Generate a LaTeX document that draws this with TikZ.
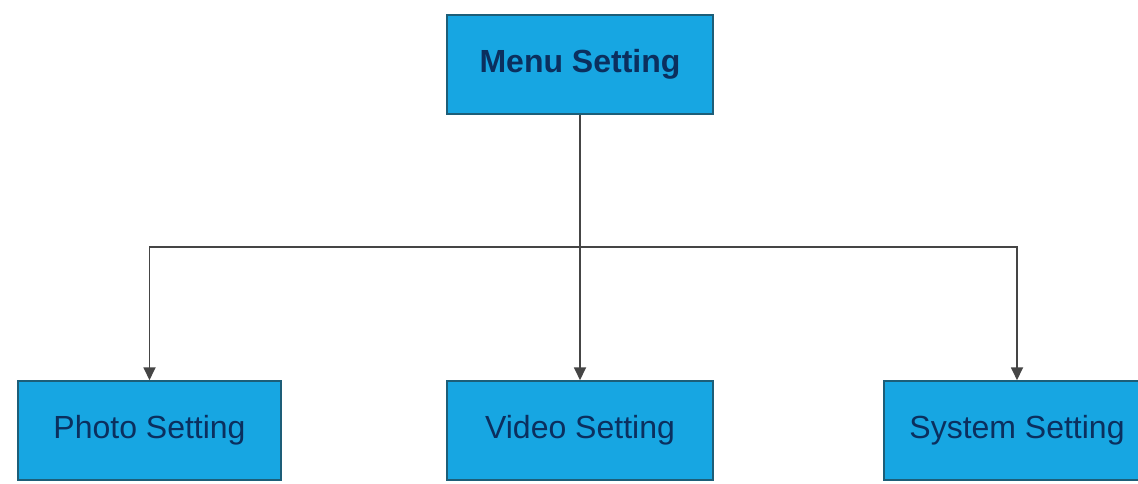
\documentclass[tikz,border=0pt]{standalone}
\usepackage{fontspec}
\setmainfont{Liberation Sans}
\usetikzlibrary{arrows.meta}
\definecolor{boxfill}{HTML}{17A6E2}
\definecolor{boxline}{HTML}{1D5E78}
\definecolor{boxtext}{HTML}{0B2F5E}
\definecolor{wire}{HTML}{454545}

\begin{document}
\begin{tikzpicture}[x=1pt,y=1pt,
    setbox/.style={draw=boxline, line width=1.5pt, fill=boxfill, text=boxtext,
      minimum width=266pt, minimum height=99pt, font=\fontsize{32}{37}\selectfont},
    link/.style={draw=wire, line width=1.8pt, -{Triangle[length=13pt,width=12pt]}}]
    \useasboundingbox (0,0) rectangle (1138,483);
    \node[setbox, font=\fontsize{32}{37}\selectfont\bfseries] (menu) at (580,418.5) {Menu Setting};
    \node[setbox, minimum width=263pt] (photo) at (149.5,52.5) {Photo Setting};
    \node[setbox] (video) at (580,52.5) {Video Setting};
    \node[setbox] (system) at (1017,52.5) {System Setting};
    % branch point on the horizontal bar
    \coordinate (split) at (580,236);
    \draw[link] (menu.south) -- (video.north);
    \draw[link] (split) -| (photo.north);
    \draw[link] (split) -| (system.north);
\end{tikzpicture}
\end{document}
